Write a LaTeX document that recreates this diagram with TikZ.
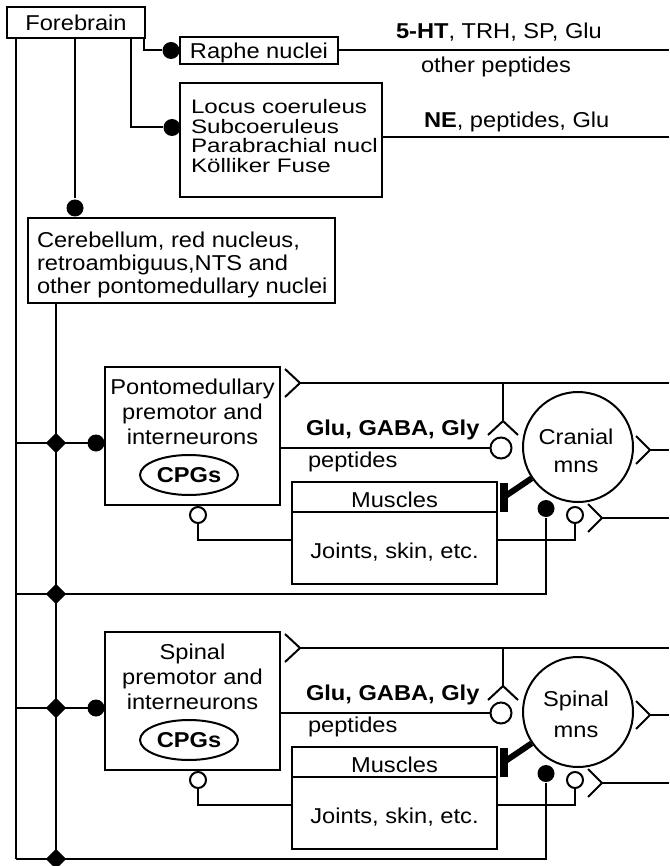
\documentclass[tikz,border=0pt]{standalone}
\usepackage{fontspec}
\setmainfont{Liberation Sans}[FakeStretch=1.1]
\newfontfamily\widefont{Liberation Sans}[FakeStretch=1.24]
\usetikzlibrary{shapes.geometric}
\newcommand\fsz[1]{\fontsize{21.5pt}{#1pt}\selectfont}
\begin{document}
\begin{tikzpicture}[x=1pt, y=-1pt,
  line width=2pt,
  every node/.style={inner sep=0pt, font=\fsz{24}},
  box/.style={draw, line width=2pt, rectangle},
  fdot/.style={circle, fill, draw=none, minimum size=17pt},
  odot/.style={circle, draw, fill=white, line width=2pt, minimum size=#1},
  odot/.default=17pt,
  dia/.style={diamond, fill, draw=none, minimum width=21pt, minimum height=21pt},
  lab/.style={anchor=base west},
  ]
\fill[white] (0,0) rectangle (669,866);
\useasboundingbox (0,0) rectangle (669,866);

% ---------- top part ----------
\node[box, minimum width=138, minimum height=31] (fb) at (76,22.5) {Forebrain};
\node[box, minimum width=158, minimum height=27, text depth=0pt] (raph) at (259,50.5) {Raphe nuclei};
\node[box, minimum width=202, minimum height=114] (loc) at (281,140) {};
\node[align=left, anchor=west, font={\widefont\fontsize{19.5pt}{19.6pt}\selectfont}] (locT) at (190,136) {Locus coeruleus\\Subcoeruleus\\Parabrachial nucl\\Kölliker Fuse};
\node[box, minimum width=307, minimum height=85] (cer) at (181.5,260.5) {};
\node[align=left, anchor=west, font=\fsz{23}] (cerT) at (36,264.5) {Cerebellum, red nucleus,\\retroambiguus,NTS and\\other pontomedullary nuclei};

\node[fdot] (raphDot) at (171,50.5) {};
\node[fdot] (locDot) at (172,127.5) {};
\node[fdot] (cerDot) at (75,208) {};
\coordinate (bl) at (16,859);
\coordinate (bm) at (56,859);
\draw (fb.south -| bl) -- (bl);
\draw ([xshift=-2pt]fb.south east) |- (raphDot);
\draw ([xshift=-15pt]fb.south east) |- (locDot);
\draw (fb.south -| cerDot) -- (cerDot);
\draw (cer.south -| bm) -- (bm);

\coordinate (raphR) at (669,50.5);
\draw (raph) -- (raphR);
\node[lab] (lab1) at (395,39) {\textbf{5-HT}, TRH, SP, Glu};
\node[lab] (lab2) at (420,73) {other peptides};
\coordinate (locR) at (669,137);
\draw (loc.east |- locR) -- (locR);
\node[lab] (lab3) at (423,128) {\textbf{NE}, peptides, Glu};

% ---------- cranial / spinal sections ----------
\foreach \dy/\nm/\first/\ctxt/\csk/\cy in {0/cr/Pontomedullary/Cranial/28/451, 265/sp/Spinal/Spinal/31/449} {
\begin{scope}[yshift=-\dy pt]
  \node[box, minimum width=175, minimum height=138] (\nm pm) at (192.5,436) {};
  \node[align=center, font=\fsz{25}] (\nm pmT) at (192.5,412) {\first\\premotor and\\interneurons};
  \node[ellipse, draw, minimum width=98, minimum height=40, font=\fsz{24}\bfseries] (\nm cpg) at (189,475) {CPGs};

  \coordinate (\nm L1) at (16,443);
  \coordinate (\nm L2) at (16,594);
  \node[fdot] (\nm fd) at (546,508.5) {};
  \draw (\nm L1) -- (\nm pm.west |- \nm L1);
  \draw (\nm L2) -| (\nm fd);
  \node[fdot] (\nm dt) at (96,443) {};
  \node[dia] (\nm d1) at (56,443) {};
  \node[dia] (\nm d2) at (56,594) {};

  % descending fork and branch
  \coordinate (\nm f1) at (300,383);
  \coordinate (\nm R1) at (669,383);
  \draw (285,369) -- (\nm f1) -- (285,397);
  \draw (\nm f1) -- (\nm R1);
  \coordinate (\nm br) at (503,383);
  \coordinate (\nm f2) at (503,421);
  \draw (\nm br) -- (\nm f2);
  \draw (488,435) -- (\nm f2) -- (518,435);

  \node[odot=21pt] (\nm oc) at (501,448) {};
  \draw (\nm pm.east |- \nm oc) -- (\nm oc);
  \node[circle, draw, minimum size=110] (\nm mn) at (578,447) {};
  \node[align=center, font=\fsz{\csk}] (\nm mnT) at (576,\cy) {\ctxt\\mns};

  % outputs
  \coordinate (\nm f3) at (650,450);
  \coordinate (\nm R2) at (669,450);
  \draw (636,436) -- (\nm f3) -- (636,464);
  \draw (\nm f3) -- (\nm R2);
  \coordinate (\nm f4) at (602,518);
  \coordinate (\nm R3) at (669,518);
  \draw (588,504) -- (\nm f4) -- (588,532);
  \draw (\nm f4) -- (\nm R3);

  % muscles
  \node[box, minimum width=205, minimum height=102] (\nm mus) at (394.5,533) {};
  \draw ([yshift=21pt]\nm mus.west) -- ([yshift=21pt]\nm mus.east);
  \node[anchor=base] (\nm musT) at (394.5,507) {Muscles};
  \node[anchor=base] (\nm jT) at (394.5,558) {Joints, skin, etc.};
  \node[odot=16pt] (\nm oc2) at (575,515) {};
  \node[odot=16pt] (\nm oc3) at (198,515) {};
  \draw ([yshift=-7pt]\nm mus.east) -| (\nm oc2);
  \draw ([yshift=-7pt]\nm mus.west) -| (\nm oc3);

  % inhibitory terminal
  \coordinate (\nm tb) at (504,497);
  \draw[line width=6pt] (\nm mn) -- (\nm tb);
  \draw[line width=8pt] ([yshift=14pt]\nm tb) -- ([yshift=-15pt]\nm tb);

  \node[lab, font=\fsz{24}\bfseries] (\nm glu) at (305,435) {Glu, GABA, Gly};
  \node[lab] (\nm pep) at (307,467) {peptides};
\end{scope}
}
\end{tikzpicture}
\end{document}
